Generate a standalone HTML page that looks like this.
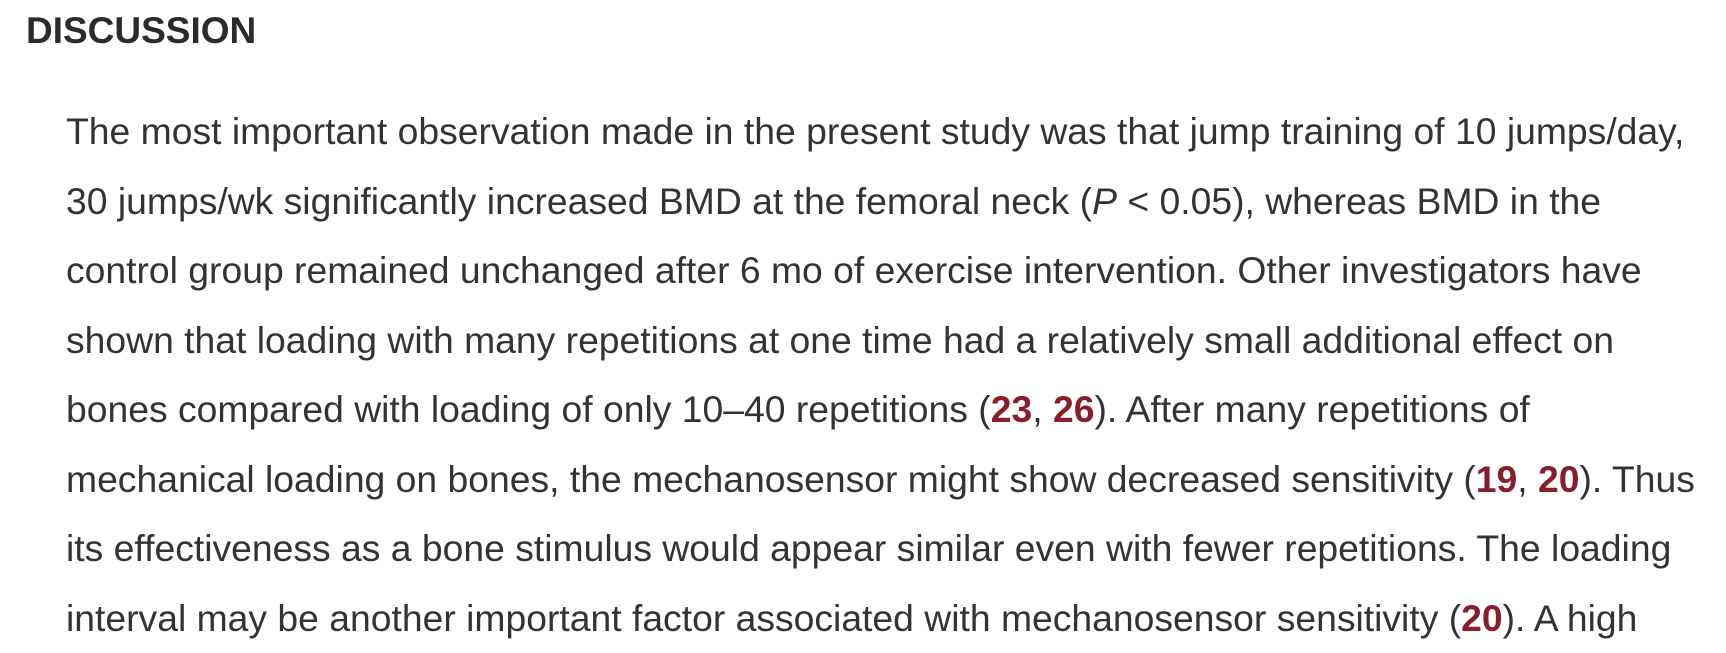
<!DOCTYPE html>
<html><head><meta charset="utf-8">
<style>
html,body{margin:0;padding:0;background:#fff;}
body{width:1726px;height:644px;overflow:hidden;position:relative;font-family:"Liberation Sans",Arial,sans-serif;}
h2{position:absolute;left:26px;top:10px;margin:0;font-size:37px;font-weight:bold;color:#2b2b2b;line-height:1.15;}
.p{position:absolute;left:66px;top:97px;font-size:37.3px;line-height:69.5px;color:#333;white-space:nowrap;}
.p div{height:69.5px;}
a{color:#8a1c2c;font-weight:bold;text-decoration:none;}
</style></head><body>
<h2>DISCUSSION</h2>
<div class="p">
<div>The most important observation made in the present study was that jump training of 10 jumps/day,</div>
<div>30 jumps/wk significantly increased BMD at the femoral neck (<i>P</i> &lt; 0.05), whereas BMD in the</div>
<div>control group remained unchanged after 6 mo of exercise intervention. Other investigators have</div>
<div>shown that loading with many repetitions at one time had a relatively small additional effect on</div>
<div>bones compared with loading of only 10–40 repetitions (<a href="#">23</a>, <a href="#">26</a>). After many repetitions of</div>
<div>mechanical loading on bones, the mechanosensor might show decreased sensitivity (<a href="#">19</a>, <a href="#">20</a>). Thus</div>
<div>its effectiveness as a bone stimulus would appear similar even with fewer repetitions. The loading</div>
<div>interval may be another important factor associated with mechanosensor sensitivity (<a href="#">20</a>). A high</div>
</div>
</body></html>
